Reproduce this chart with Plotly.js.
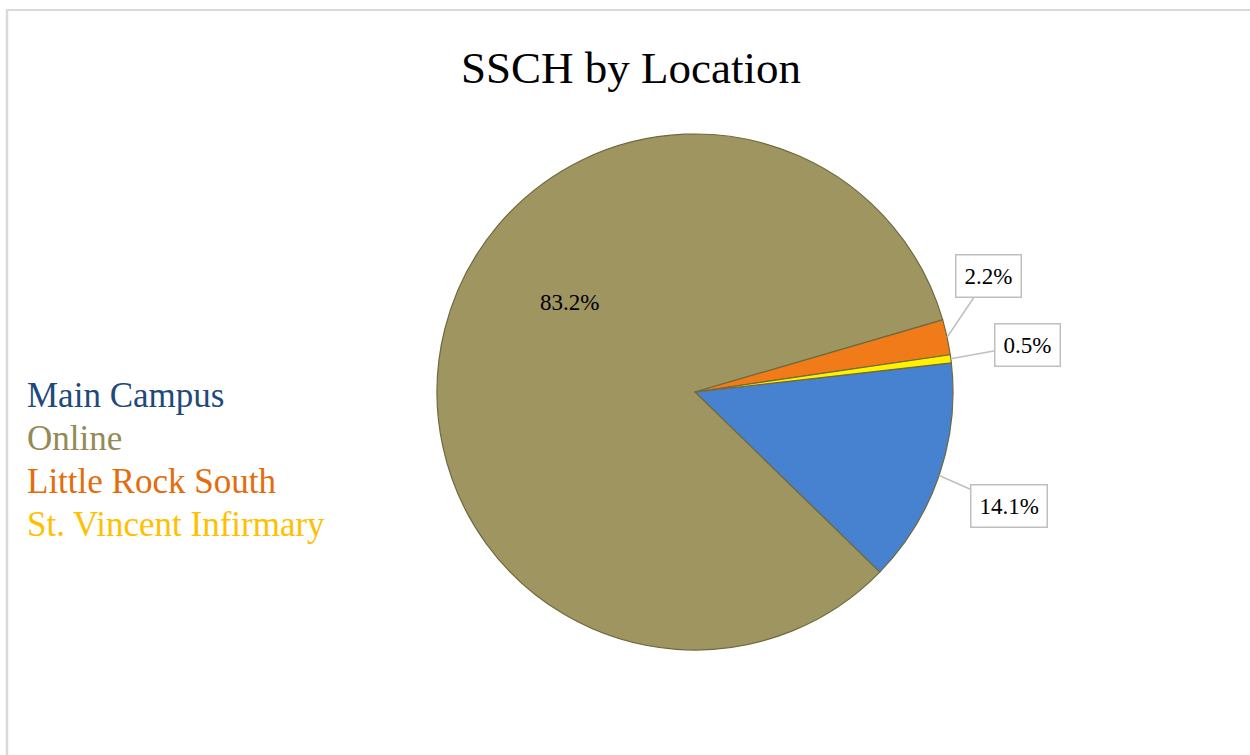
<!DOCTYPE html>
<html>
<head>
<meta charset="utf-8">
<script src="https://cdn.plot.ly/plotly-3.0.1.min.js"></script>
<style>html,body{margin:0;padding:0;background:#fff;}#chart{width:1250px;height:755px;}</style>
</head>
<body>
<div id="chart"></div>
<script>
// ---- data ----
const categories = ["Main Campus", "Online", "Little Rock South", "St. Vincent Infirmary"];
const shares = [14.1, 83.2, 2.2, 0.5];
const labelText = ["14.1%", "83.2%", "2.2%", "0.5%"];
const sliceColors = ["#4682D0", "#9E9560", "#F07B18", "#FFF200"];
const legendColors = ["#1F497D", "#948A54", "#E46C0A", "#FFC000"];
const titleText = "SSCH by Location";

// ---- geometry ----
const W = 1250, H = 755;
const cx = 695, cy = 392, R = 258, rotation = 83.5;
const serif = "'Liberation Serif', 'Times New Roman', serif";

const total = shares.reduce((a, b) => a + b, 0);
let cum = 0;
const mids = shares.map(v => { const m = rotation + (cum + v / 2) / total * 360; cum += v; return m; });
function edgePoint(deg, f) {
  const a = deg * Math.PI / 180;
  return [cx + f * R * Math.sin(a), cy - f * R * Math.cos(a)];
}

// callout offsets (pixels) for outside labels; null = inside label
const offsets = [[70, 31], null, [41, -61], [77, -14]];
const annotations = [];
shares.forEach((v, i) => {
  if (offsets[i]) {
    const p = edgePoint(mids[i], 1.0);
    annotations.push({
      x: p[0] / W, y: 1 - p[1] / H, xref: "paper", yref: "paper",
      text: labelText[i], showarrow: true, arrowhead: 0, arrowwidth: 1.5,
      arrowcolor: "#BFBFBF", ax: offsets[i][0], ay: offsets[i][1],
      bordercolor: "#BFBFBF", borderwidth: 1.5, borderpad: 8, bgcolor: "#FFFFFF",
      font: {family: serif, size: 23, color: "#000"}
    });
  } else {
    annotations.push({
      x: 569 / W, y: 1 - 302 / H, xref: "paper", yref: "paper",
      text: labelText[i], showarrow: false,
      font: {family: serif, size: 23, color: "#000"}
    });
  }
});
// text-only legend
categories.forEach((c, i) => {
  annotations.push({
    x: 25 / W, y: 1 - (395 + i * 43) / H, xref: "paper", yref: "paper",
    xanchor: "left", yanchor: "middle", text: c, showarrow: false,
    font: {family: serif, size: 35, color: legendColors[i]}
  });
});
// title
annotations.push({
  x: 631 / W, y: 1 - 68 / H, xref: "paper", yref: "paper",
  xanchor: "center", yanchor: "middle", text: titleText, showarrow: false,
  font: {family: serif, size: 45, color: "#000"}
});

const trace = {
  type: "pie",
  labels: categories,
  values: shares,
  sort: false,
  direction: "clockwise",
  rotation: rotation,
  textinfo: "none",
  hoverinfo: "label+percent",
  marker: {colors: sliceColors, line: {color: "#6F6A3E", width: 1.2}},
  domain: {x: [(cx - R) / W, (cx + R) / W], y: [1 - (cy + R) / H, 1 - (cy - R) / H]},
  showlegend: false
};

const layout = {
  width: W, height: H,
  margin: {l: 0, r: 0, t: 0, b: 0},
  paper_bgcolor: "#FFFFFF",
  showlegend: false,
  annotations: annotations,
  shapes: [
    {type: "line", xref: "paper", yref: "paper", x0: 7 / W, x1: 7 / W, y0: 0, y1: 1 - 9 / H, line: {color: "#D9D9D9", width: 2.5}},
    {type: "line", xref: "paper", yref: "paper", x0: 7 / W, x1: 1, y0: 1 - 10 / H, y1: 1 - 10 / H, line: {color: "#D9D9D9", width: 2}}
  ]
};

Plotly.newPlot("chart", [trace], layout, {displayModeBar: false, staticPlot: true});
</script>
</body>
</html>
